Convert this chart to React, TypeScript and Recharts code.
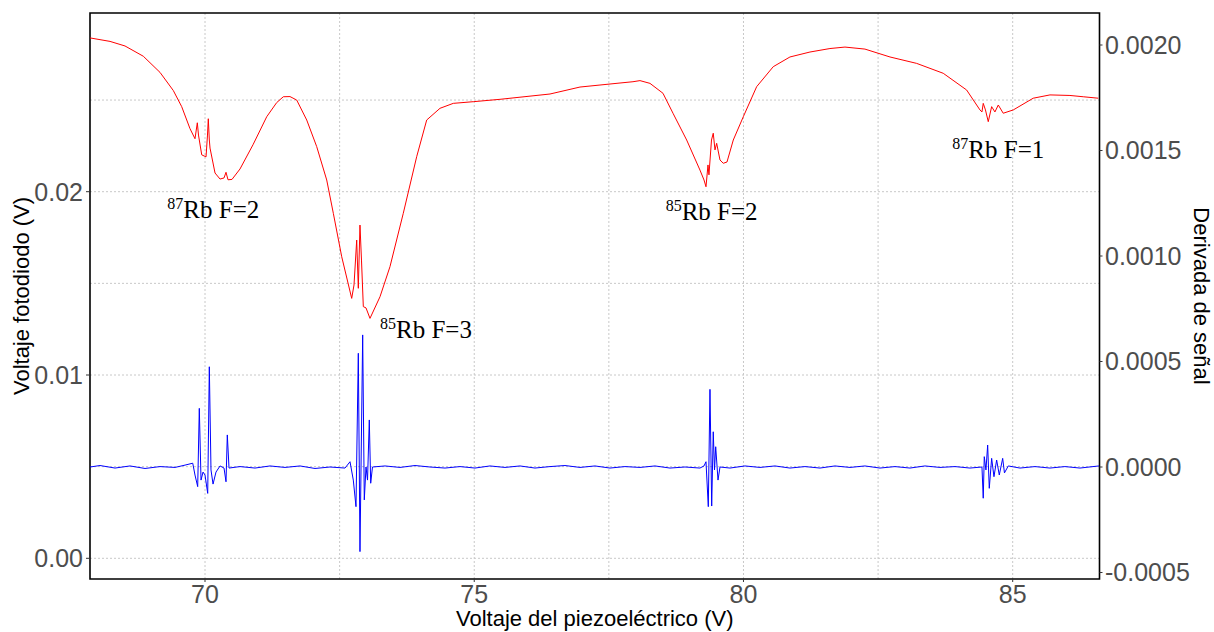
import React from "react";
import {
  ComposedChart,
  Line,
  Scatter,
  XAxis,
  YAxis,
  CartesianGrid,
  ReferenceArea,
} from "recharts";

// Red trace: photodiode voltage (left axis)
const redVoltage = [
  67.864, 68.236, 68.514, 68.854, 69.164, 69.411, 69.567, 69.721, 69.814, 69.857,
  69.879, 69.939, 70.019, 70.046, 70.061, 70.08, 70.093, 70.186, 70.279, 70.353,
  70.39, 70.427, 70.501, 70.65, 70.891, 71.146, 71.331, 71.454, 71.578, 71.703,
  71.889, 72.074, 72.26, 72.383, 72.539, 72.724, 72.767, 72.817, 72.847, 72.878,
  72.906, 72.94, 72.99, 73.064, 73.25, 73.435, 73.682, 73.931, 74.117, 74.364,
  74.611, 74.982, 75.478, 76.407, 76.964, 77.335, 77.707, 77.948, 78.078, 78.264,
  78.505, 78.691, 78.945, 79.192, 79.267, 79.304, 79.341, 79.359, 79.406, 79.439,
  79.471, 79.502, 79.564, 79.625, 79.694, 79.811, 79.997, 80.245, 80.553, 80.863,
  81.235, 81.606, 81.885, 82.256, 82.721, 83.216, 83.71, 84.144, 84.392, 84.429,
  84.453, 84.494, 84.546, 84.609, 84.67, 84.732, 84.824, 85.01, 85.381, 85.692,
  86.063, 86.31, 86.589,
];
const redSignal = [
  0.02839, 0.0282, 0.02795, 0.02739, 0.02651, 0.02552, 0.02464, 0.02344, 0.02289, 0.02376,
  0.02309, 0.02201, 0.0219, 0.02309, 0.02398, 0.02282, 0.02238, 0.02102, 0.02069, 0.02075,
  0.02106, 0.02065, 0.02067, 0.02124, 0.02256, 0.02409, 0.02486, 0.02518, 0.02519, 0.025,
  0.02391, 0.02246, 0.02064, 0.01882, 0.01645, 0.01418, 0.01491, 0.01736, 0.01473, 0.01818,
  0.01627, 0.01373, 0.01366, 0.01309, 0.01427, 0.01591, 0.01882, 0.02191, 0.02391, 0.02455,
  0.02482, 0.02491, 0.02504, 0.02533, 0.02571, 0.02582, 0.02593, 0.026, 0.02606, 0.02591,
  0.02537, 0.02428, 0.02282, 0.02118, 0.02064, 0.02027, 0.02146, 0.02092, 0.02282, 0.02319,
  0.02228, 0.02264, 0.02173, 0.02155, 0.02162, 0.02282, 0.02409, 0.02573, 0.02682, 0.02735,
  0.02762, 0.02781, 0.02789, 0.02778, 0.02735, 0.027, 0.02646, 0.02555, 0.02446, 0.02435,
  0.02482, 0.02446, 0.02382, 0.02464, 0.02435, 0.02473, 0.02428, 0.02446, 0.0251, 0.02528,
  0.02525, 0.02518, 0.0251,
];

// Blue trace: signal derivative (right axis)
const blueVoltage = [
  67.864, 68.05, 68.329, 68.607, 68.886, 69.164, 69.443, 69.629, 69.772, 69.814,
  69.864, 69.894, 69.926, 69.963, 70.0, 70.05, 70.08, 70.111, 70.149, 70.204,
  70.279, 70.353, 70.39, 70.414, 70.446, 70.65, 70.929, 71.207, 71.486, 71.764,
  72.043, 72.321, 72.6, 72.693, 72.754, 72.804, 72.847, 72.878, 72.928, 72.958,
  72.99, 73.018, 73.051, 73.077, 73.11, 73.343, 73.621, 73.9, 74.178, 74.457,
  74.735, 75.014, 75.292, 75.571, 75.849, 76.128, 76.407, 76.685, 76.964, 77.242,
  77.521, 77.799, 78.078, 78.357, 78.635, 78.914, 79.192, 79.267, 79.304, 79.347,
  79.378, 79.41, 79.439, 79.462, 79.484, 79.527, 79.564, 79.749, 80.028, 80.306,
  80.585, 80.863, 81.142, 81.421, 81.699, 81.978, 82.256, 82.535, 82.813, 83.092,
  83.37, 83.649, 83.928, 84.206, 84.429, 84.453, 84.472, 84.503, 84.535, 84.565,
  84.609, 84.652, 84.702, 84.751, 84.814, 84.847, 84.918, 85.135, 85.413, 85.692,
  85.97, 86.249, 86.602,
];
const blueDerivative = [
  0, 0.000007, -0.000005, 0.000005, -0.000007, 0.000002, -0.000002, 0.000009, 0.000018, -0.000038,
  -0.000093, 0.000278, -0.000062, -0.000024, -0.000038, -0.000125, 0.000475, -0.000014, -0.000081, -0.000024,
  0.000005, -0.000005, -0.00007, 0.000152, -0.000005, 0.000002, -0.000005, 0.000005, -0.000002, 0.000005,
  -0.000007, 0, -0.000005, 0.000025, -0.000062, -0.000188, 0.000539, -0.000401, 0.000626, -0.000156,
  0, -0.000062, 0.000223, -0.000077, 0, 0.000005, -0.000002, 0.000007, 0, -0.000005,
  0.000002, -0.000005, 0.000005, -0.000002, 0.000005, -0.000005, 0.000002, 0.000007, -0.000002, 0.000005,
  -0.000005, 0.000002, -0.000002, 0.000005, -0.000005, 0, -0.000005, 0.000005, 0.000025, -0.000188,
  0.000368, -0.000185, 0.000167, -0.000014, 0.000096, -0.000062, 0, -0.000005, 0.000005, -0.000002,
  0.000005, -0.000005, 0.000002, -0.000005, 0.000005, -0.000002, 0.000005, -0.000005, 0.000002, -0.000005,
  0.000005, -0.000002, 0.000002, -0.000005, 0, -0.000148, 0.000049, -0.000014, 0.000104, -0.000101,
  0.000041, -0.000046, 0.000033, -0.000038, 0.000041, -0.000028, 0.000005, -0.000005, 0.000002, -0.000005,
  0.000002, -0.000005, 0.000005,
];

// Peak annotations
const annotIsotope = ["87", "85", "85", "87"];
const annotLevel = ["Rb F=2", "Rb F=3", "Rb F=2", "Rb F=1"];
const annotVoltage = [70.154, 74.104, 79.409, 84.732];
const annotSignal = [0.018549, 0.012019, 0.018456, 0.021822];

// Axes
const xDomain = [67.864, 86.612];
const xTicks = [70, 75, 80, 85];
const xGrid = [70, 72.5, 75, 77.5, 80, 82.5, 85];
const leftDomain = [-0.001129, 0.029749];
const leftTicks = [0, 0.01, 0.02];
const leftGrid = [0, 0.005, 0.01, 0.015, 0.02, 0.025];
const rightDomain = [-0.0005308, 0.0021517];
const rightTicks = [-0.0005, 0, 0.0005, 0.001, 0.0015, 0.002];

const redData = redVoltage.map((x, i) => ({ x, y: redSignal[i] }));
const blueData = blueVoltage.map((x, i) => ({ x, y: blueDerivative[i] }));
const annotData = annotVoltage.map((x, i) => ({
  x,
  y: annotSignal[i],
  iso: annotIsotope[i],
  lvl: annotLevel[i],
}));

const tickStyle = {
  fontFamily: "'Liberation Sans', Arial, sans-serif",
  fontSize: 25,
  fill: "#4D4D4D",
};
const titleFont = "'Liberation Sans', Arial, sans-serif";

const AnnotShape = (props: any) => {
  const { cx, cy, payload } = props;
  return (
    <text
      x={cx}
      y={cy}
      textAnchor="middle"
      fontFamily="'Liberation Serif', 'Times New Roman', serif"
      fontSize={25}
      fill="#000"
    >
      <tspan fontSize={16} dy={-9}>
        {payload.iso}
      </tspan>
      <tspan dy={9}>{payload.lvl}</tspan>
    </text>
  );
};

const LeftTitle = (props: any) => {
  const { viewBox } = props;
  const x = viewBox.x + 21;
  const y = viewBox.y + viewBox.height / 2;
  return (
    <text
      x={x}
      y={y}
      transform={`rotate(-90 ${x} ${y})`}
      textAnchor="middle"
      dominantBaseline="central"
      fontFamily={titleFont}
      fontSize={22}
      fill="#000"
    >
      Voltaje fotodiodo (V)
    </text>
  );
};

const RightTitle = (props: any) => {
  const { viewBox } = props;
  const x = viewBox.x + 101.5;
  const y = viewBox.y + viewBox.height / 2;
  return (
    <text
      x={x}
      y={y}
      transform={`rotate(90 ${x} ${y})`}
      textAnchor="middle"
      dominantBaseline="central"
      fontFamily={titleFont}
      fontSize={22}
      fill="#000"
    >
      Derivada de señal
    </text>
  );
};

const BottomTitle = (props: any) => {
  const { viewBox } = props;
  const x = viewBox.x + viewBox.width / 2;
  const y = viewBox.y + 47;
  return (
    <text
      x={x}
      y={y}
      textAnchor="middle"
      fontFamily={titleFont}
      fontSize={22}
      fill="#000"
    >
      Voltaje del piezoeléctrico (V)
    </text>
  );
};

export default function App() {
  return (
    <div style={{ position: "absolute", left: 0, top: 0, width: 1214, height: 632, background: "#fff" }}>
      <ComposedChart
        width={1214}
        height={632}
        margin={{ top: 13, right: 0, bottom: 0, left: 0 }}
      >
        <CartesianGrid
          yAxisId="left"
          xAxisId="x"
          horizontalValues={leftGrid}
          verticalValues={xGrid}
          stroke="#C8C8C8"
          strokeDasharray="2 2"
          strokeWidth={1}
        />
        <XAxis
          xAxisId="x"
          dataKey="x"
          type="number"
          domain={xDomain}
          ticks={xTicks}
          allowDataOverflow
          height={53}
          axisLine={false}
          tickLine={{ stroke: "#333" }}
          tickSize={3}
          tickMargin={3}
          tick={tickStyle}
          label={<BottomTitle />}
        />
        <YAxis
          yAxisId="left"
          orientation="left"
          type="number"
          domain={leftDomain}
          ticks={leftTicks}
          allowDataOverflow
          width={90}
          axisLine={false}
          tickLine={{ stroke: "#333" }}
          tickSize={4}
          tickMargin={3}
          tick={tickStyle}
          tickFormatter={(v: number) => v.toFixed(2)}
          label={<LeftTitle />}
        />
        <YAxis
          yAxisId="right"
          orientation="right"
          type="number"
          domain={rightDomain}
          ticks={rightTicks}
          allowDataOverflow
          width={114.5}
          axisLine={false}
          tickLine={{ stroke: "#333" }}
          tickSize={3}
          tickMargin={2.5}
          tick={tickStyle}
          tickFormatter={(v: number) => v.toFixed(4)}
          label={<RightTitle />}
        />
        <Line
          xAxisId="x"
          yAxisId="left"
          data={redData}
          dataKey="y"
          type="linear"
          stroke="#FF0000"
          strokeWidth={1}
          dot={false}
          activeDot={false}
          isAnimationActive={false}
        />
        <Line
          xAxisId="x"
          yAxisId="right"
          data={blueData}
          dataKey="y"
          type="linear"
          stroke="#0000FF"
          strokeWidth={1}
          dot={false}
          activeDot={false}
          isAnimationActive={false}
        />
        <Scatter
          xAxisId="x"
          yAxisId="left"
          data={annotData}
          dataKey="y"
          shape={<AnnotShape />}
          isAnimationActive={false}
        />
        <ReferenceArea
          xAxisId="x"
          yAxisId="left"
          x1={xDomain[0]}
          x2={xDomain[1]}
          y1={leftDomain[0]}
          y2={leftDomain[1]}
          fill="none"
          fillOpacity={0}
          stroke="#000"
          strokeWidth={1.6}
          ifOverflow="visible"
        />
      </ComposedChart>
    </div>
  );
}
